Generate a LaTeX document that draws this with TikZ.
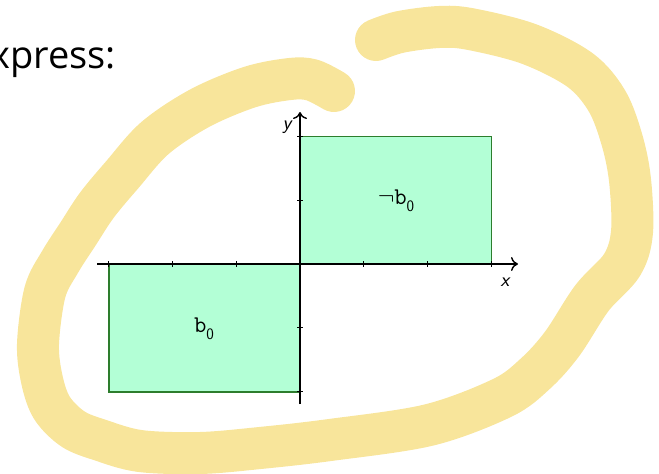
\documentclass[tikz,border=0pt]{standalone}
\usepackage{fontspec}
\newfontfamily\slidefont{Open Sans}
\usetikzlibrary{arrows.meta}
\definecolor{hl}{RGB}{248,229,155}
\definecolor{boxfill}{RGB}{179,255,214}
\definecolor{boxline}{RGB}{45,125,45}
\newcommand{\subz}{\raisebox{-0.3em}{\fontsize{16}{16}\selectfont\sffamily 0}}
\begin{document}
\begin{tikzpicture}[x=1pt,y=-1pt,
  axis/.style={line width=1.4pt,-{Computer Modern Rightarrow[length=7pt,width=14pt]}},
  tick/.style={line width=0.9pt},
  region/.style={fill=boxfill,draw=boxline,line width=1.8pt},
  lbl/.style={font=\fontsize{24}{26}\selectfont\ttfamily,inner sep=0pt},
  axlbl/.style={font=\fontsize{20}{24}\selectfont\sffamily\itshape,inner sep=0pt},
  pen/.style={draw=hl,line width=42pt,line cap=round,line join=round}]
\useasboundingbox (0,0) rectangle (659,474);
% highlighter loop
\draw[pen] plot[smooth,tension=0.55] coordinates {
 (334,91) (312,80) (290,79) (250,87) (200,108) (155,138) (122,175) (97,205)
 (78,234) (60,262) (45,292) (38,344) (42,380) (52,408) (73,429) (100,440)
 (140,451) (200,453) (260,448) (330,440) (429,425) (502,398) (535,374)
 (562,344) (592,298) (622,265) (632,232) (630,180) (622,140) (607,101)
 (580,70) (529,44) (470,29) (439,27) (400,32) (376,40)};
% title fragment
\node[anchor=base east,inner sep=0pt,font=\slidefont\fontsize{38}{44}\selectfont] (title) at (116,68) {xpress:};
% regions
\draw[region] (300,136.4) rectangle (491.4,264);
\draw[region] (108.6,264) rectangle (300,391.6);
% axes
\coordinate (xs) at (97,264);
\coordinate (xe) at (518,264);
\coordinate (ys) at (300,404);
\coordinate (ye) at (300,112);
\draw[axis] (xs) -- (xe);
\draw[axis] (ys) -- (ye);
\foreach \t in {108.6,172.4,236.2,363.8,427.6,491.4}
  \draw[tick] (\t,261) -- (\t,267);
\foreach \t in {136.4,200.2,327.8,391.6}
  \draw[tick] (297,\t) -- (303,\t);
\node[axlbl] (xl) at (505,282) {x};
\node[axlbl] (yl) at (287,127) {y};
\node[lbl] (nb) at (396,201) {$\neg$b\subz};
\node[lbl] (b) at (204,329) {b\subz};
\end{tikzpicture}
\end{document}
